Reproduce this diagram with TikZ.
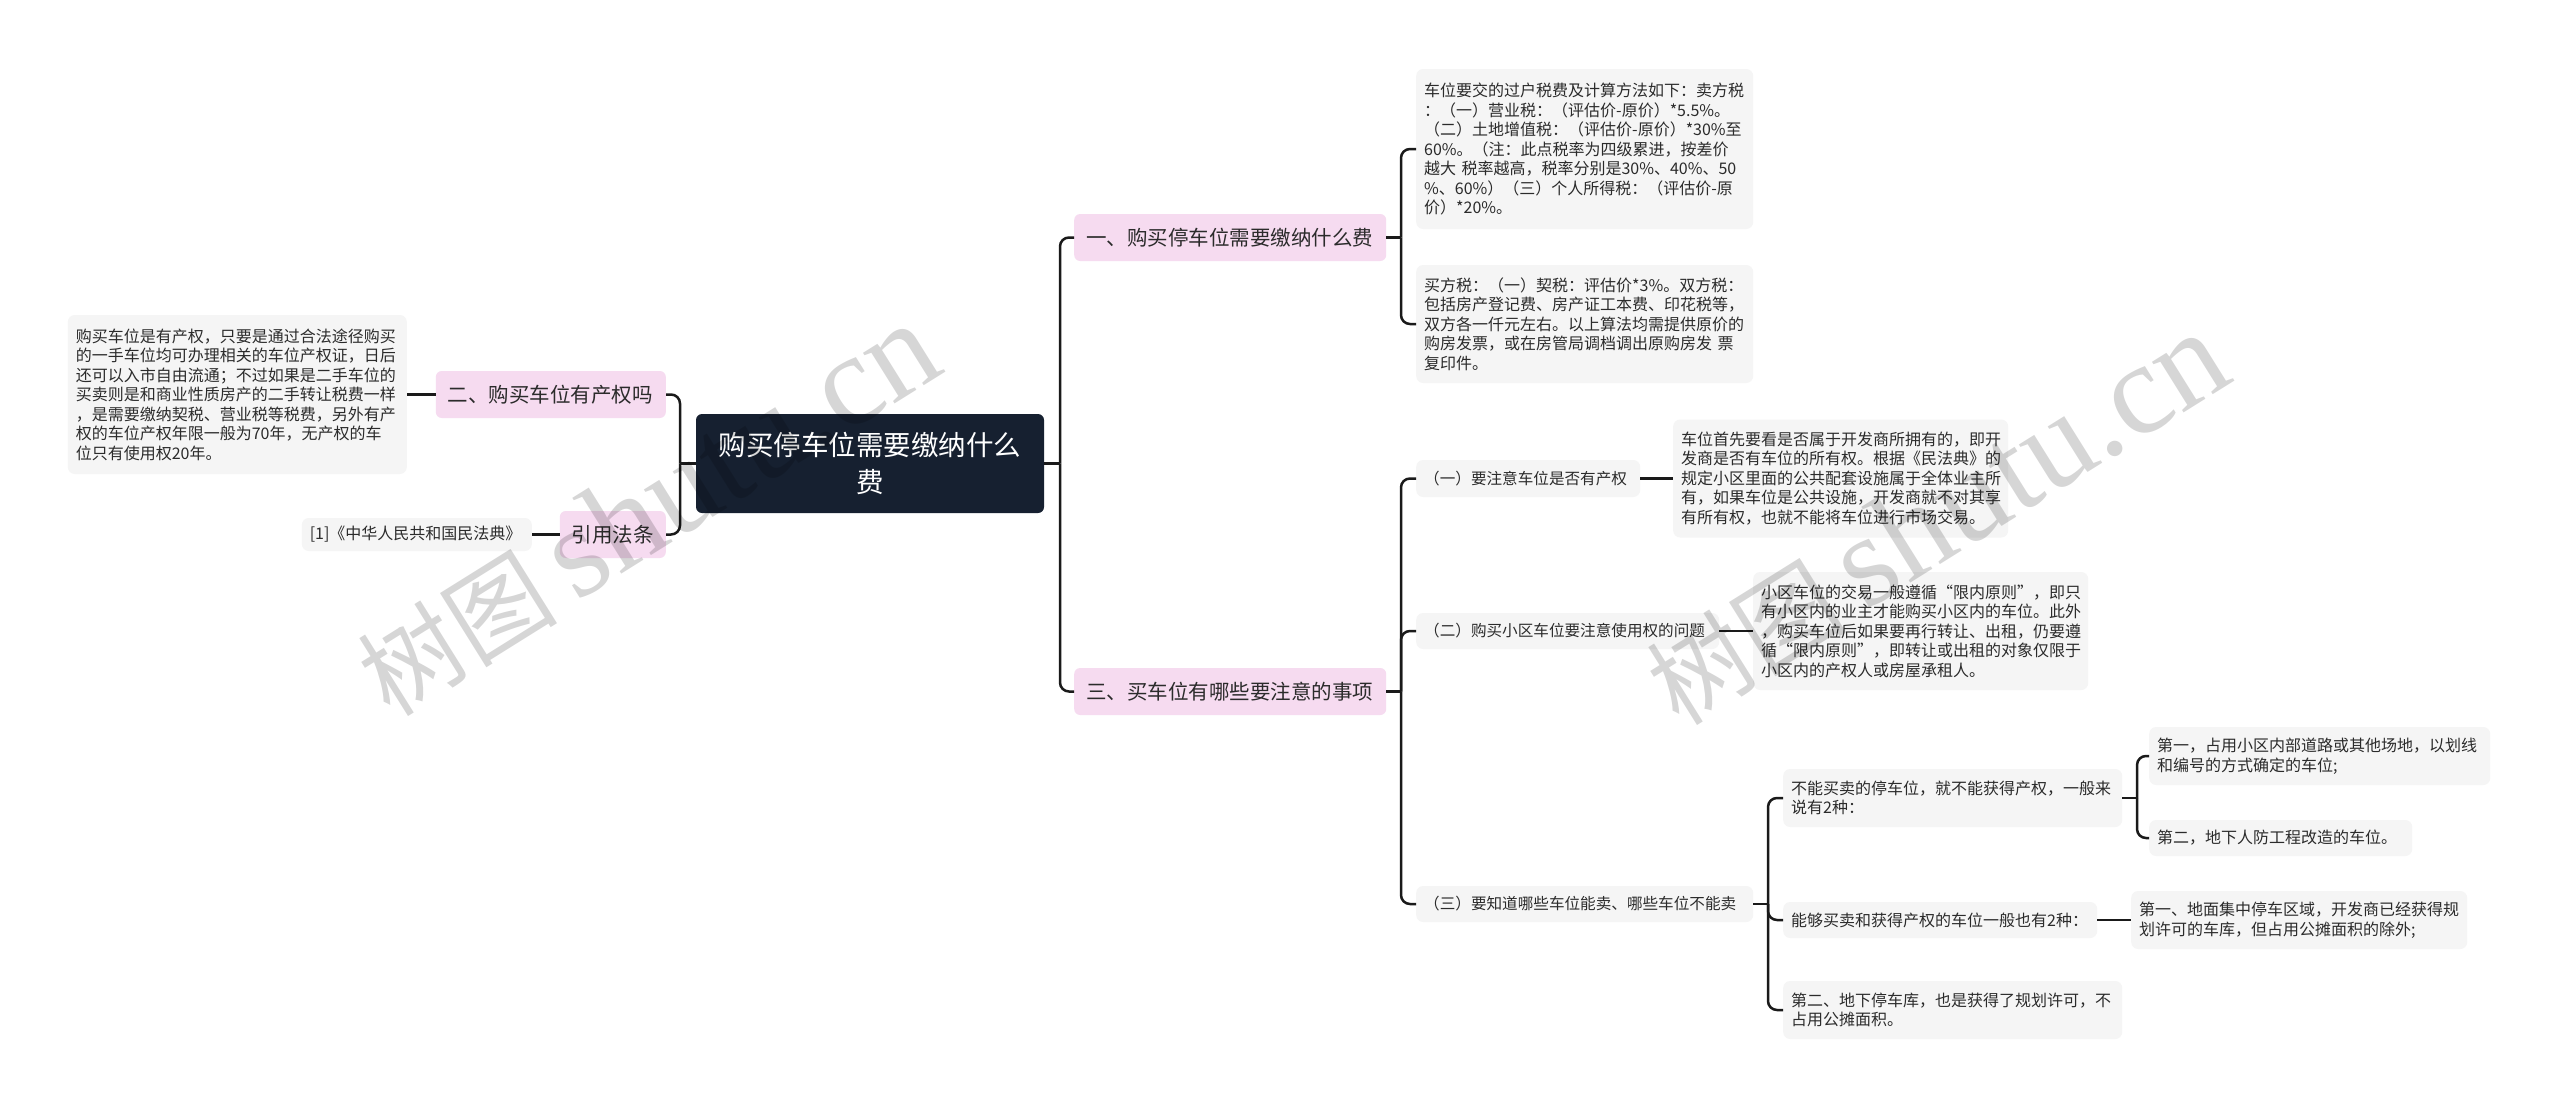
\documentclass[tikz,border=0pt]{standalone}
\usepackage{fontspec}
\setmainfont{Noto Sans CJK SC}
\newfontfamily\cjk{Noto Sans CJK SC}
\newfontfamily\wmlatin{Liberation Serif}
\definecolor{rootbg}{HTML}{162030}
\definecolor{pinkbg}{HTML}{F6DBF0}
\definecolor{leafbg}{HTML}{F5F5F5}
\definecolor{textc}{HTML}{2B2B2B}
\definecolor{linec}{HTML}{1A1A1A}
\tikzset{
  base/.style={inner xsep=8pt, inner ysep=0pt, align=left, anchor=west, text=textc},
  rootnode/.style={fill=rootbg, text=white, rounded corners=6pt, minimum width=348pt, minimum height=99pt,
     align=center, inner sep=0pt, font=\cjk\fontsize{27.5}{37}\selectfont},
  lvlone/.style={base, inner xsep=12pt, fill=pinkbg, rounded corners=6pt, font=\cjk\fontsize{20.5}{24}\selectfont},
  leaf/.style={base, fill=leafbg, rounded corners=7pt, font=\cjk\fontsize{16}{19.5}\selectfont},
  lab/.style={base, fill=leafbg, rounded corners=7pt, font=\cjk\fontsize{15.6}{19}\selectfont},
  conn/.style={draw=linec, line width=2.5pt},
  elbow/.style={conn, rounded corners=9pt},
  wm/.style={rotate=32, text=black, opacity=0.16, inner sep=0pt}
}
\begin{document}
\begin{tikzpicture}[x=1pt,y=-1pt]
\useasboundingbox (0,0) rectangle (2560,1109);
\fill[white] (0,0) rectangle (2560,1109);

% root
\node[rootnode] (root) at (870,463.5) {购买停车位需要缴纳什么\\费};

% level one
\node[lvlone, text width=288pt, minimum height=47pt] (p1) at (1074,237.5) {一、购买停车位需要缴纳什么费};
\node[lvlone, text width=288pt, minimum height=47pt] (p3) at (1074,691.5) {三、买车位有哪些要注意的事项};
\node[lvlone, text width=206pt, minimum height=47pt, anchor=east] (p2) at (666,394.5) {二、购买车位有产权吗};
\node[lvlone, text width=82pt, minimum height=47pt, anchor=east] (p4) at (666,534.5) {引用法条};

% left leaves
\node[leaf, text width=323pt, minimum height=159pt, anchor=east] (ll) at (407,394.5) {购买车位是有产权，只要是通过合法途径购买\\的一手车位均可办理相关的车位产权证，日后\\还可以入市自由流通；不过如果是二手车位的\\买卖则是和商业性质房产的二手转让税费一样\\，是需要缴纳契税、营业税等税费，另外有产\\权的车位产权年限一般为70年，无产权的车\\位只有使用权20年。};
\node[leaf, text width=214pt, minimum height=33pt, anchor=east] (lr) at (532,534.5) {[1]《中华人民共和国民法典》};

% right leaves of p1
\node[leaf, text width=321pt, minimum height=160pt] (la) at (1416,149) {车位要交的过户税费及计算方法如下：卖方税\\：（一）营业税：（评估价-原价）*5.5\%。\\（二）土地增值税：（评估价-原价）*30\%至\\60\%。（注：此点税率为四级累进，按差价\\越大~税率越高，税率分别是30\%、40\%、50\\\%、60\%）（三）个人所得税：（评估价-原\\价）*20\%。};
\node[leaf, text width=321pt, minimum height=118pt] (lb) at (1416,324) {买方税：（一）契税：评估价*3\%。双方税：\\包括房产登记费、房产证工本费、印花税等，\\双方各一仟元左右。以上算法均需提供原价的\\购房发票，或在房管局调档调出原购房发~票\\复印件。};

% p3 children
\node[lab, text width=208pt, minimum height=37pt] (q1) at (1416,478.5) {（一）要注意车位是否有产权};
\node[leaf, text width=319pt, minimum height=118pt] (q1l) at (1673,478.5) {车位首先要看是否属于开发商所拥有的，即开\\发商是否有车位的所有权。根据《民法典》的\\规定小区里面的公共配套设施属于全体业主所\\有，如果车位是公共设施，开发商就不对其享\\有所有权，也就不能将车位进行市场交易。};
\node[lab, text width=287pt, minimum height=36pt] (q2) at (1416,631) {（二）购买小区车位要注意使用权的问题};
\node[leaf, text width=319pt, minimum height=118pt] (q2l) at (1753,631) {小区车位的交易一般遵循“限内原则”，即只\\有小区内的业主才能购买小区内的车位。此外\\，购买车位后如果要再行转让、出租，仍要遵\\循“限内原则”，即转让或出租的对象仅限于\\小区内的产权人或房屋承租人。};
\node[lab, text width=321pt, minimum height=36pt] (q3) at (1416,904) {（三）要知道哪些车位能卖、哪些车位不能卖};

% q3 children
\node[leaf, text width=323pt, minimum height=58pt] (r1) at (1783,798) {不能买卖的停车位，就不能获得产权，一般来\\说有2种：};
\node[leaf, text width=325pt, minimum height=58pt] (r1a) at (2149,756) {第一，占用小区内部道路或其他场地，以划线\\和编号的方式确定的车位;};
\node[leaf, text width=247pt, minimum height=36pt] (r1b) at (2149,838) {第二，地下人防工程改造的车位。};
\node[leaf, text width=298pt, minimum height=36pt] (r2) at (1783,920) {能够买卖和获得产权的车位一般也有2种：};
\node[leaf, text width=320pt, minimum height=58pt] (r2a) at (2131,920) {第一、地面集中停车区域，开发商已经获得规\\划许可的车库，但占用公摊面积的除外;};
\node[leaf, text width=323pt, minimum height=58pt] (r3) at (1783,1010) {第二、地下停车库，也是获得了规划许可，不\\占用公摊面积。};

% branch points
\coordinate (bR) at (1060,463.5);
\coordinate (bL) at (680,463.5);
\coordinate (b1) at (1401,237.5);
\coordinate (b3) at (1401,691.5);
\coordinate (b4) at (1768,904);
\coordinate (b5) at (2137,798);

% connectors
\draw[conn] (root.east) -- (bR);
\draw[elbow] (bR) |- (p1.west);
\draw[elbow] (bR) |- (p3.west);
\draw[conn] (root.west) -- (bL);
\draw[elbow] (bL) |- (p2.east);
\draw[elbow] (bL) |- (p4.east);
\draw[conn] (p2.west) -- (ll.east);
\draw[conn] (p4.west) -- (lr.east);
\draw[conn] (p1.east) -- (b1);
\draw[elbow] (b1) |- (la.west);
\draw[elbow] (b1) |- (lb.west);
\draw[conn] (p3.east) -- (b3);
\draw[elbow] (b3) |- (q1.west);
\draw[elbow] (b3) |- (q2.west);
\draw[elbow] (b3) |- (q3.west);
\draw[conn] (q1.east) -- (q1l.west);
\draw[conn] (q2.east) -- (q2l.west);
\draw[conn] (q3.east) -- (b4);
\draw[elbow] (b4) |- (r1.west);
\draw[elbow] (b4) |- (r2.west);
\draw[elbow] (b4) |- (r3.west);
\draw[conn] (r1.east) -- (b5);
\draw[elbow] (b5) |- (r1a.west);
\draw[elbow] (b5) |- (r1b.west);
\draw[conn] (r2.east) -- (r2a.west);

% watermarks
\node[wm] (wm1) at (647,510) {\cjk\fontsize{100}{110}\selectfont 树图\hspace{20pt}{\wmlatin\fontsize{130}{140}\selectfont shutu.cn}};
\node[wm] (wm2) at (1936,519) {\cjk\fontsize{100}{110}\selectfont 树图\hspace{20pt}{\wmlatin\fontsize{130}{140}\selectfont shutu.cn}};
\end{tikzpicture}
\end{document}
